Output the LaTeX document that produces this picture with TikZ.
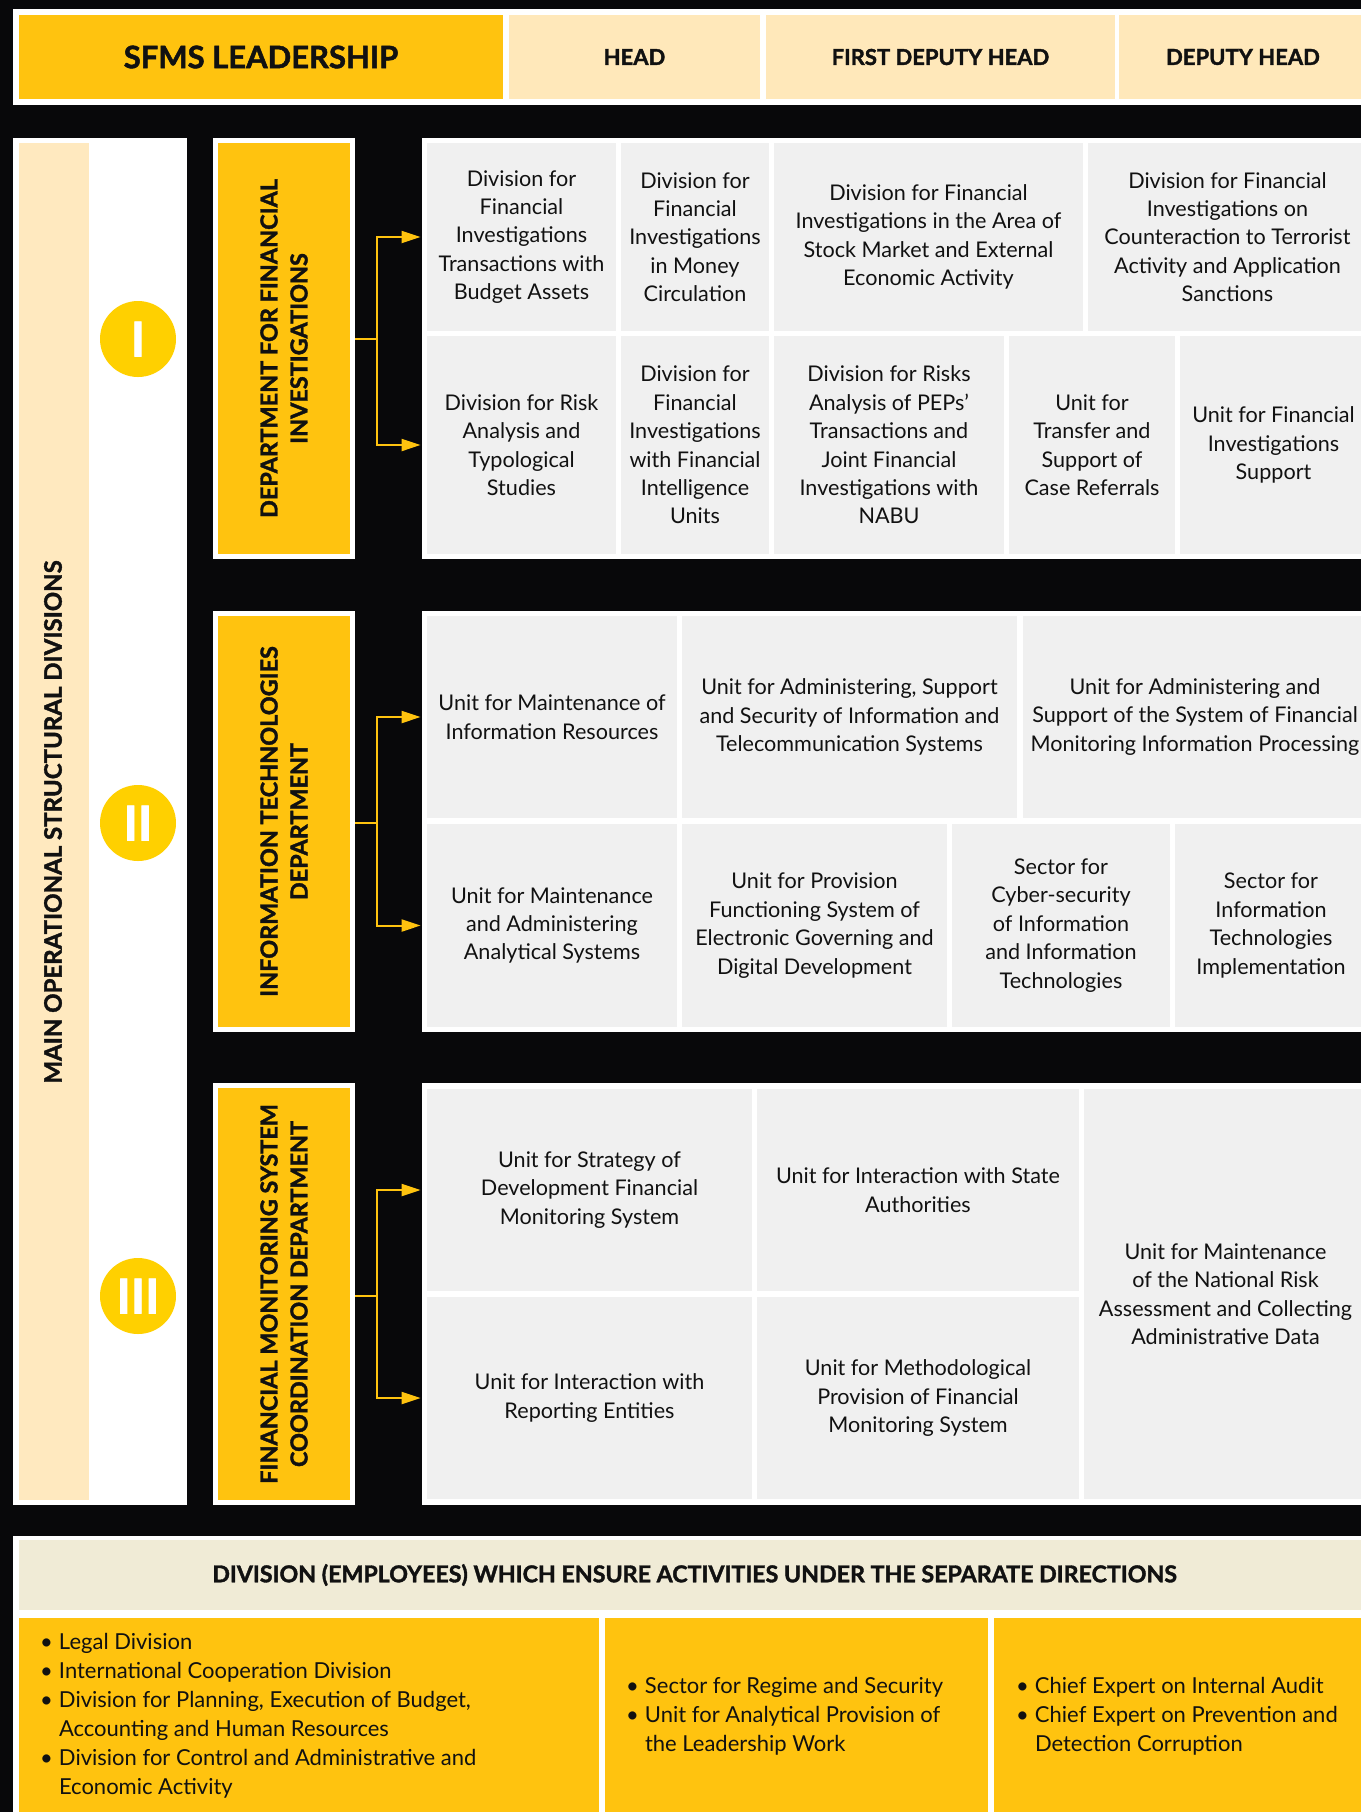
\documentclass[tikz,border=0pt]{standalone}
\usepackage{fontspec}
\setmainfont{Lato}[BoldFeatures={FakeBold=1.6}]
\usetikzlibrary{arrows.meta,calc}
\definecolor{sfyellow}{RGB}{255,195,15}
\definecolor{dotyellow}{RGB}{255,208,0}
\definecolor{headbeige}{RGB}{255,232,186}
\definecolor{stripbeige}{RGB}{255,233,191}
\definecolor{cellgray}{RGB}{240,240,240}
\definecolor{notebeige}{RGB}{240,235,214}
\definecolor{bgdark}{RGB}{8,8,10}
\definecolor{inkdark}{RGB}{17,17,17}
\newcommand{\bul}{\makebox[9.5pt][l]{\textbullet}}
\newcommand{\ind}{\hspace*{9.5pt}}

\begin{document}
\begin{tikzpicture}[x=0.5pt, y=-0.5pt,
  txt/.style={text=inkdark, font=\fontsize{10.8}{14.2}\selectfont},
  cell/.style={txt, fill=cellgray, inner sep=0pt, align=center},
  captext/.style={text=inkdark, font=\bfseries\fontsize{11}{15}\selectfont, inner sep=0pt, align=center},
  headbox/.style={captext, fill=headbeige, minimum height=42pt},
  dept/.style={captext, font=\bfseries\fontsize{11.7}{15}\selectfont, fill=sfyellow, draw=white, line width=2.5pt, rotate=90, minimum width=208pt, minimum height=68.5pt},
  numdot/.style={circle, fill=dotyellow, minimum size=38pt, inner sep=0pt, text=white, font=\bfseries\fontsize{24}{24}\selectfont},
  link/.style={draw=sfyellow, line width=1pt},
  arrowlink/.style={link, -{Triangle[length=9.5pt,width=6pt]}, shorten >=3pt},
  bullets/.style={text=inkdark, font=\fontsize{11}{14.5}\selectfont, anchor=west, align=left, inner sep=0pt}]

% background
\fill[bgdark] (0,0) rectangle (1361,1812);
\useasboundingbox (0,0) rectangle (1361,1812);

% leadership row
\fill[white] (13,9) rectangle (1370,105);
\node[captext, fill=sfyellow, minimum width=242pt, minimum height=42pt, font=\bfseries\fontsize{15.5}{18}\selectfont] (lead) at (261,57) {SFMS LEADERSHIP};
\node[headbox, minimum width=125.5pt] (head) at (634.5,57) {HEAD};
\node[headbox, minimum width=174.5pt] (fdhead) at (940.5,57) {FIRST DEPUTY HEAD};
\node[headbox, minimum width=124pt] (dhead) at (1243,57) {DEPUTY HEAD};

% main structural divisions
\fill[white] (13,138) rectangle (187,1505);
\fill[stripbeige] (19,143) rectangle (89,1500);
\node[captext, rotate=90, font=\bfseries\fontsize{12}{15}\selectfont] (mosd) at (53,822) {MAIN OPERATIONAL STRUCTURAL DIVISIONS};
\node[numdot] (n1) at (138,339) {I};
\node[numdot] (n2) at (138,823) {II};
\node[numdot] (n3) at (138,1296) {III};

\node[dept] (dfi) at (284,348.5) {DEPARTMENT FOR FINANCIAL\\INVESTIGATIONS};
\node[dept] (dit) at (284,821.5) {INFORMATION TECHNOLOGIES\\DEPARTMENT};
\node[dept, minimum width=208.5pt] (dfm) at (284,1294) {FINANCIAL MONITORING SYSTEM\\COORDINATION DEPARTMENT};

\foreach \ya/\yb in {138/559, 611/1032, 1083/1505}
  \fill[white] (422,\ya) rectangle (1370,\yb);

% units of each department
\foreach \n/\xa/\ya/\xb/\yb/\txt in {
  i11/427/143/616/331/{Division for\\Financial\\Investigations\\Transactions with\\Budget Assets},
  i12/621/143/769/331/{Division for\\Financial\\Investigations\\in Money\\Circulation},
  i13/774/143/1083/331/{Division for Financial\\Investigations in the Area of\\Stock Market and External\\Economic Activity},
  i14/1088/143/1367/331/{Division for Financial\\Investigations on\\Counteraction to Terrorist\\Activity and Application\\Sanctions},
  i21/427/336/616/554/{Division for Risk\\Analysis and\\Typological\\Studies},
  i22/621/336/769/554/{Division for\\Financial\\Investigations\\with Financial\\Intelligence\\Units},
  i23/774/336/1004/554/{Division for Risks\\Analysis of PEPs’\\Transactions and\\Joint Financial\\Investigations with\\NABU},
  i24/1009/336/1175/554/{Unit for\\Transfer and\\Support of\\Case Referrals},
  i25/1180/336/1367/554/{Unit for Financial\\Investigations\\Support},
  t11/427/616/677/818/{Unit for Maintenance of\\Information Resources},
  t12/682/616/1017/818/{Unit for Administering, Support\\and Security of Information and\\Telecommunication Systems},
  t13/1023/616/1367/818/{Unit for Administering and\\Support of the System of Financial\\Monitoring Information Processing},
  t21/427/824/677/1027/{Unit for Maintenance\\and Administering\\Analytical Systems},
  t22/682/824/947/1027/{Unit for Provision\\Functioning System of\\Electronic Governing and\\Digital Development},
  t23/952/824/1170/1027/{Sector for\\Cyber-security\\of Information\\and Information\\Technologies},
  t24/1175/824/1367/1027/{Sector for\\Information\\Technologies\\Implementation},
  m11/427/1089/752/1291/{Unit for Strategy of\\Development Financial\\Monitoring System},
  m12/757/1089/1079/1291/{Unit for Interaction with State\\Authorities},
  m21/427/1297/752/1499/{Unit for Interaction with\\Reporting Entities},
  m22/757/1297/1079/1499/{Unit for Methodological\\Provision of Financial\\Monitoring System},
  m3/1084/1089/1367/1499/{Unit for Maintenance\\of the National Risk\\Assessment and Collecting\\Administrative Data}}
  \node[cell, minimum width={(\xb-\xa)*0.5pt}, minimum height={(\yb-\ya)*0.5pt}] (\n) at ({(\xa+\xb)/2},{(\ya+\yb)/2}) {\txt};

% connectors
\coordinate (j1) at (377,339);
\coordinate (j2) at (377,823);
\coordinate (j3) at (377,1296);
\foreach \dep/\j/\ra/\rb in {dfi/j1/i11/i21, dit/j2/t11/t21, dfm/j3/m11/m21} {
  \draw[link] (\dep.south |- \j) -- (\j);
  \draw[arrowlink] (\j) |- (\ra.west);
  \draw[arrowlink] (\j) |- (\rb.west);
}

% separate directions
\fill[white] (13,1536) rectangle (1370,1820);
\node[captext, fill=notebeige, minimum width=675.5pt, minimum height=35pt, font=\bfseries\fontsize{11.6}{13}\selectfont] (note) at (694.5,1575) {DIVISION (EMPLOYEES) WHICH ENSURE ACTIVITIES UNDER THE SEPARATE DIRECTIONS};
\foreach \n/\xa/\xb in {b1/19/599, b2/605/988, b3/994/1370}
  \node[fill=sfyellow, inner sep=0pt, minimum width={(\xb-\xa)*0.5pt}, minimum height=98pt] (\n) at ({(\xa+\xb)/2},1716) {};

\node[bullets] (b1t) at ([xshift=10.5pt]b1.west) {\bul Legal Division\\
  \bul International Cooperation Division\\
  \bul Division for Planning, Execution of Budget,\\
  \ind Accounting and Human Resources\\
  \bul Division for Control and Administrative and\\
  \ind Economic Activity};
\node[bullets] (b2t) at ([xshift=10.5pt]b2.west) {\bul Sector for Regime and Security\\
  \bul Unit for Analytical Provision of\\
  \ind the Leadership Work};
\node[bullets] (b3t) at ([xshift=11pt]b3.west) {\bul Chief Expert on Internal Audit\\
  \bul Chief Expert on Prevention and\\
  \ind Detection Corruption};
\end{tikzpicture}
\end{document}
